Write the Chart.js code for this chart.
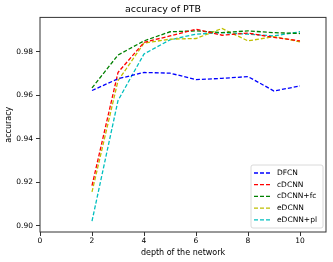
<!DOCTYPE html>
<html>
<head>
<meta charset="utf-8">
<script src="https://cdn.jsdelivr.net/npm/chart.js@4.4.0/dist/chart.umd.min.js"></script>
<style>
  body { margin: 0; background: #fff; }
  canvas { display: block; }
</style>
</head>
<body>
<canvas id="accChart" width="333" height="262"></canvas>
<script>
// depth values and accuracy
const depths = [2, 3, 4, 5, 6, 7, 8, 9, 10];

const dfcn = [0.9622, 0.9676, 0.9705, 0.9702, 0.9672, 0.9678, 0.9686, 0.9620, 0.9643];
const cdcnn = [0.9185, 0.9705, 0.9843, 0.9873, 0.9904, 0.9876, 0.9886, 0.9866, 0.9850];
const cdcnnFc = [0.9634, 0.9785, 0.9850, 0.9892, 0.9896, 0.9888, 0.9896, 0.9888, 0.9884];
const edcnn = [0.9156, 0.9667, 0.9840, 0.9858, 0.9861, 0.9907, 0.9850, 0.9870, 0.9846];
const edcnnPl = [0.9022, 0.9576, 0.9790, 0.9855, 0.9881, 0.9888, 0.9881, 0.9873, 0.9892];

const seriesNames = ["DFCN", "cDCNN", "cDCNN+fc", "eDCNN", "eDCNN+pl"];
const seriesColors = ["#0000ff", "#ff0000", "#008000", "#bfbf00", "#00bfbf"];

const xTicks = [0, 2, 4, 6, 8, 10];
const yTicks = [0.90, 0.92, 0.94, 0.96, 0.98];

const font = "'DejaVu Sans', sans-serif";

function toPoints(values) {
    return depths.map((d, i) => ({ x: d, y: values[i] }));
}

const allSeries = [dfcn, cdcnn, cdcnnFc, edcnn, edcnnPl];

const datasets = allSeries.map((values, i) => ({
    label: seriesNames[i],
    data: toPoints(values),
    borderColor: seriesColors[i],
    borderWidth: 1.3,
    borderDash: [4, 2],
    pointRadius: 0,
    fill: false,
    tension: 0
}));

// box round the plot + legend in the lower right corner
const framePlugin = {
    id: "frame",
    afterDatasetsDraw(chart) {
        const ctx = chart.ctx;
        const a = chart.chartArea;

        ctx.save();
        ctx.strokeStyle = "#333";
        ctx.lineWidth = 1;
        ctx.strokeRect(a.left, a.top, a.right - a.left, a.bottom - a.top);

        const boxW = 72;
        const boxH = 63;
        const bx = a.right - 3 - boxW;
        const by = a.bottom - 4 - boxH;

        ctx.fillStyle = "rgba(255,255,255,0.85)";
        ctx.strokeStyle = "#d0d0d0";
        ctx.lineWidth = 0.8;
        ctx.beginPath();
        ctx.roundRect(bx, by, boxW, boxH, 2);
        ctx.fill();
        ctx.stroke();

        ctx.font = "7.5px " + font;
        ctx.textBaseline = "middle";
        ctx.textAlign = "left";

        chart.data.datasets.forEach((ds, i) => {
            const y = by + 8 + i * 11.7;
            ctx.strokeStyle = ds.borderColor;
            ctx.lineWidth = 1.3;
            ctx.setLineDash([4, 2]);
            ctx.beginPath();
            ctx.moveTo(bx + 3, y);
            ctx.lineTo(bx + 21, y);
            ctx.stroke();
            ctx.setLineDash([]);
            ctx.fillStyle = "#000";
            ctx.fillText(ds.label, bx + 26, y);
        });
        ctx.restore();
    }
};

new Chart(
    document.getElementById("accChart"),
    {
        type: "line",
        data: { datasets: datasets },
        plugins: [framePlugin],
        options: {
            responsive: false,
            animation: false,
            layout: { padding: { top: 0, right: 7, left: 0, bottom: 0 } },
            plugins: {
                legend: { display: false },
                tooltip: { enabled: false },
                title: {
                    display: true,
                    text: "accuracy of PTB",
                    color: "#000",
                    font: { family: font, size: 9.5, weight: "normal" },
                    padding: { top: 4, bottom: 2 }
                }
            },
            scales: {
                x: {
                    type: "linear",
                    min: 0,
                    max: 11,
                    afterBuildTicks: (scale) => {
                        scale.ticks = xTicks.map(v => ({ value: v }));
                    },
                    afterFit: (scale) => { scale.height = 30; },
                    grid: {
                        drawOnChartArea: false,
                        drawTicks: true,
                        tickLength: 4,
                        color: "#333"
                    },
                    border: { display: false },
                    ticks: {
                        color: "#000",
                        padding: 1,
                        maxRotation: 0,
                        font: { family: font, size: 7.5 },
                        callback: (v) => v
                    },
                    title: {
                        display: true,
                        text: "depth of the network",
                        color: "#000",
                        font: { family: font, size: 8 },
                        padding: { top: 0, bottom: 4 }
                    }
                },
                y: {
                    type: "linear",
                    min: 0.8972,
                    max: 0.9958,
                    afterBuildTicks: (scale) => {
                        scale.ticks = yTicks.map(v => ({ value: v }));
                    },
                    afterFit: (scale) => { scale.width = 40; },
                    grid: {
                        drawOnChartArea: false,
                        drawTicks: true,
                        tickLength: 4,
                        color: "#333"
                    },
                    border: { display: false },
                    ticks: {
                        color: "#000",
                        padding: 3,
                        font: { family: font, size: 7.5 },
                        callback: (v) => v.toFixed(2)
                    },
                    title: {
                        display: true,
                        text: "accuracy",
                        color: "#000",
                        font: { family: font, size: 8 },
                        padding: { top: 4, bottom: 0 }
                    }
                }
            }
        }
    }
);
</script>
</body>
</html>
